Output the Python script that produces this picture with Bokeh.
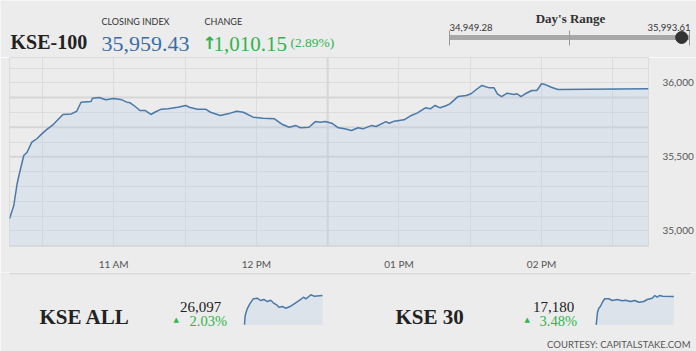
from bokeh.plotting import figure
from bokeh.models import Range1d, Label, FixedTicker, NumeralTickFormatter, Span
from bokeh.layouts import column
from bokeh.embed import file_html
from bokeh.resources import INLINE

# ---------------- data ----------------
index_name = "KSE-100"
close = 35959.43
change = 1010.15
change_pct = 2.89
day_low = 34949.28
day_high = 35993.61

# minutes since midnight
t_main = [616.1, 617.9, 619.3, 620.4, 622.1, 623.5, 625.5, 627.6, 629.7, 631.7, 634.5, 638.6, 642.1, 644.4,
          646.2, 650.4, 651.0, 653.8, 656.6, 660.0, 663.4, 665.5, 666.9, 669.0, 671.0, 673.1, 675.6, 677.2,
          680.0, 682.8, 686.9, 690.3, 691.7, 695.2, 698.6, 700.7, 704.8, 709.0, 711.7, 714.5, 718.6, 722.8,
          727.6, 731.0, 733.8, 736.6, 738.6, 742.1, 744.8, 746.9, 749.0, 751.7, 754.5, 757.2, 760.0, 762.8,
          764.8, 768.3, 770.4, 774.5, 775.9, 778.0, 782.1, 784.9, 787.6, 791.1, 793.2, 795.2, 797.3, 800.0,
          801.4, 804.8, 808.3, 810.3, 812.4, 814.9, 818.0, 820.0, 821.4, 823.2, 825.5, 828.3, 829.7, 831.3,
          833.1, 835.9, 838.0, 840.0, 841.4, 844.1, 846.9, 885.0]
v_main = [35081, 35171, 35318, 35396, 35509, 35531, 35599, 35622, 35655, 35684, 35718, 35786, 35790, 35808,
          35869, 35874, 35896, 35901, 35885, 35894, 35885, 35869, 35865, 35840, 35813, 35813, 35786, 35801,
          35822, 35824, 35835, 35847, 35835, 35822, 35822, 35801, 35779, 35795, 35808, 35801, 35768, 35761,
          35757, 35718, 35700, 35711, 35696, 35700, 35738, 35734, 35738, 35727, 35696, 35689, 35678, 35696,
          35689, 35711, 35705, 35738, 35727, 35741, 35750, 35777, 35795, 35831, 35824, 35847, 35831, 35847,
          35858, 35907, 35914, 35926, 35953, 35982, 35966, 35966, 35926, 35907, 35930, 35921, 35926, 35907,
          35926, 35948, 35948, 35993.61, 35989, 35970, 35955, 35959.43]

x_tick_vals = [660, 720, 780, 840]
x_tick_labels = ["11 AM", "12 PM", "01 PM", "02 PM"]
x_grid_vals = [630, 660, 690, 720, 750, 780, 810, 840, 870]
y_tick_vals = [35000, 35500, 36000]
y_grid_vals = list(range(34900, 36200, 100))

all_name = "KSE ALL"
all_close = 26097
all_pct = 2.03
t_all = [616, 618.4, 625.3, 634.3, 646.1, 660, 671.4, 682.8, 694.6, 706, 715.4, 726.8, 734.7, 746.5, 758,
         775.3, 792.6, 809.9, 819.2, 827.2, 835.1, 844.5, 855.9, 885]
v_all = [25610, 25765, 25877, 25960, 26043, 26053, 26015, 26032, 25998, 26020, 25977, 25943, 25903, 25915,
         25887, 25920, 25977, 26032, 26070, 26043, 26070, 26110, 26087, 26097]

k30_name = "KSE 30"
k30_close = 17180
k30_pct = 3.48
t_30 = [616, 620.5, 625, 630.9, 638.9, 645.8, 659.7, 671.5, 688.8, 706.1, 717.6, 734.9, 749.8, 763.7, 781,
        792.8, 810.1, 819.2, 827.4, 835.4, 846.8, 885]
v_30 = [16620, 16869, 16949, 16988, 17081, 17135, 17135, 17101, 17121, 17095, 17107, 17081, 17101, 17067,
        17081, 17121, 17147, 17200, 17166, 17200, 17186, 17180]

# ---------------- styles ----------------
BG = "#ececec"
GRID = "#dcdcdc"
LINE = "#4a79a9"
FILL = "#bacee5"
BLUE = "#3b6ea6"
GREEN = "#2fb44c"
DARK = "#222222"
SERIF = "Liberation Serif"
SANS = "Lato"
W = 696


def span_range(lo, hi, p0, p1, size):
    # map lo -> pixel p0 and hi -> pixel p1 on a frame spanning pixels 0..size
    k = (hi - lo) / (p1 - p0)
    start = lo - p0 * k
    return Range1d(start, start + size * k)


def blank(h):
    f = figure(width=W, height=h, x_range=Range1d(0, W), y_range=Range1d(h, 0),
               x_axis_type=None, y_axis_type=None, frame_align=False,
               output_backend="svg", toolbar_location=None, min_border=0,
               min_border_left=0, min_border_right=0, min_border_top=0, min_border_bottom=0,
               background_fill_color=BG, border_fill_color=BG, outline_line_color=None)
    f.grid.visible = False
    return f


def lab(f, x, y, text, font, size, color, align="left", style="normal"):
    f.add_layout(Label(x=x, y=y, text=text, text_font=font, text_font_size=size, text_color=color,
                       text_align=align, text_baseline="alphabetic", text_font_style=style))


# ---------------- header ----------------
HH = 57
hdr = blank(HH)
lab(hdr, 10, 41, index_name, SERIF, "20px", DARK, style="bold")
lab(hdr, 101, 21, "CLOSING INDEX", SANS, "9px", "#333333")
lab(hdr, 101, 43, f"{close:,.2f}", SERIF, "22px", BLUE)
lab(hdr, 204, 21, "CHANGE", SANS, "9px", "#333333")
lab(hdr, 202, 42, "\u2191", "DejaVu Sans", "17px", GREEN, style="bold")
lab(hdr, 213, 43, f"{change:,.2f}", SERIF, "21px", GREEN)
lab(hdr, 290, 42, f"({change_pct:.2f}%)", SERIF, "13.5px", GREEN)

lab(hdr, 570, 18, "Day's Range", SERIF, "13px", "#333333", align="center", style="bold")
lab(hdr, 449, 27, f"{day_low:,.2f}", SANS, "9.5px", "#333333")
lab(hdr, 690, 27, f"{day_high:,.2f}", SANS, "9.5px", "#333333", align="right")

hdr.extra_x_ranges = {"rng": span_range(day_low, day_high, 449, 689, W)}
mid = (day_low + day_high) / 2
hdr.segment(x0=[day_low], x1=[day_high], y0=[37], y1=[37], line_color="#a8a8a8", line_width=5,
            x_range_name="rng")
hdr.segment(x0=[day_low, mid, day_high], x1=[day_low, mid, day_high], y0=[30] * 3, y1=[45] * 3,
            line_color="#9a9a9a", line_width=1, x_range_name="rng")
hdr.scatter(x=[close], y=[37], size=12, fill_color="#333333", line_color="#333333", x_range_name="rng")

# ---------------- main chart ----------------
p = figure(width=W, height=215, x_range=Range1d(t_main[0], t_main[-1]), y_range=Range1d(34894, 36171),
           y_axis_location="right", output_backend="svg", toolbar_location=None, frame_align=False,
           min_border_left=9, min_border_right=37, min_border_top=0, min_border_bottom=26,
           background_fill_color=BG, border_fill_color=BG, outline_line_color=GRID)
p.varea(x=t_main, y1=p.y_range.start, y2=v_main, fill_color=FILL, fill_alpha=0.3)
p.line(x=t_main, y=v_main, line_color=LINE, line_width=1.5)

p.xaxis.ticker = FixedTicker(ticks=x_tick_vals)
p.xaxis.major_label_overrides = dict(zip(x_tick_vals, x_tick_labels))
p.yaxis.ticker = FixedTicker(ticks=y_tick_vals)
p.yaxis.formatter = NumeralTickFormatter(format="0,0")
for ax in (p.xaxis, p.yaxis):
    ax.axis_line_color = None
    ax.major_tick_line_color = None
    ax.minor_tick_line_color = None
    ax.major_label_text_font = SANS
    ax.major_label_text_font_size = "10px"
    ax.major_label_text_color = "#555555"
p.xaxis.major_label_standoff = 5
p.yaxis.major_label_standoff = 8
p.xgrid.ticker = FixedTicker(ticks=x_grid_vals)
p.ygrid.ticker = FixedTicker(ticks=y_grid_vals)
p.grid.grid_line_color = GRID
p.grid.grid_line_width = 1
for yv in (35500, 35700, 35900):
    p.add_layout(Span(location=yv, dimension="width", line_color="#d6d6d6", line_width=2, level="underlay"))
p.add_layout(Span(location=750, dimension="height", line_color="#d6d6d6", line_width=2, level="underlay"))

# ---------------- bottom ----------------
BH = 79
bot = blank(BH)
bot.segment(x0=[9], x1=[690], y0=[1], y1=[1], line_color="#d6d6d6", line_width=1.5)


def spark(f, name, t, v, x0, x1, ytop, ybot):
    f.extra_x_ranges[name + "x"] = span_range(t[0], t[-1], x0, x1, W)
    # y pixels counted from the top of the panel
    f.extra_y_ranges[name + "y"] = span_range(min(v), max(v), BH - ybot, BH - ytop, BH)
    f.varea(x=t, y1=min(v), y2=v, fill_color=FILL, fill_alpha=0.3,
            x_range_name=name + "x", y_range_name=name + "y")
    f.line(x=t, y=v, line_color=LINE, line_width=1.5, x_range_name=name + "x", y_range_name=name + "y")


bot.extra_x_ranges = {}
bot.extra_y_ranges = {}
spark(bot, "s1", t_all, v_all, 244, 322, 22.3, 52.3)
spark(bot, "s2", t_30, v_30, 595.7, 673.3, 23, 52.3)

lab(bot, 39, 44, all_name, SERIF, "21px", DARK, style="bold")
lab(bot, 200, 34.7, f"{all_close:,}", SERIF, "15px", DARK, align="center")
lab(bot, 173, 47, "\u25b2", "DejaVu Sans", "7px", GREEN)
lab(bot, 189, 48, f"{all_pct:.2f}%", SERIF, "14.5px", GREEN)

lab(bot, 395, 44, k30_name, SERIF, "21px", DARK, style="bold")
lab(bot, 553, 34.7, f"{k30_close:,}", SERIF, "15px", DARK, align="center")
lab(bot, 524, 47, "\u25b2", "DejaVu Sans", "7px", GREEN)
lab(bot, 539, 48, f"{k30_pct:.2f}%", SERIF, "14.5px", GREEN)

lab(bot, 690, 72, "COURTESY: CAPITALSTAKE.COM", SANS, "9.5px", "#555555", align="right")

layout = column(hdr, p, bot, spacing=0)
open("out.html", "w").write(file_html(layout, INLINE))
